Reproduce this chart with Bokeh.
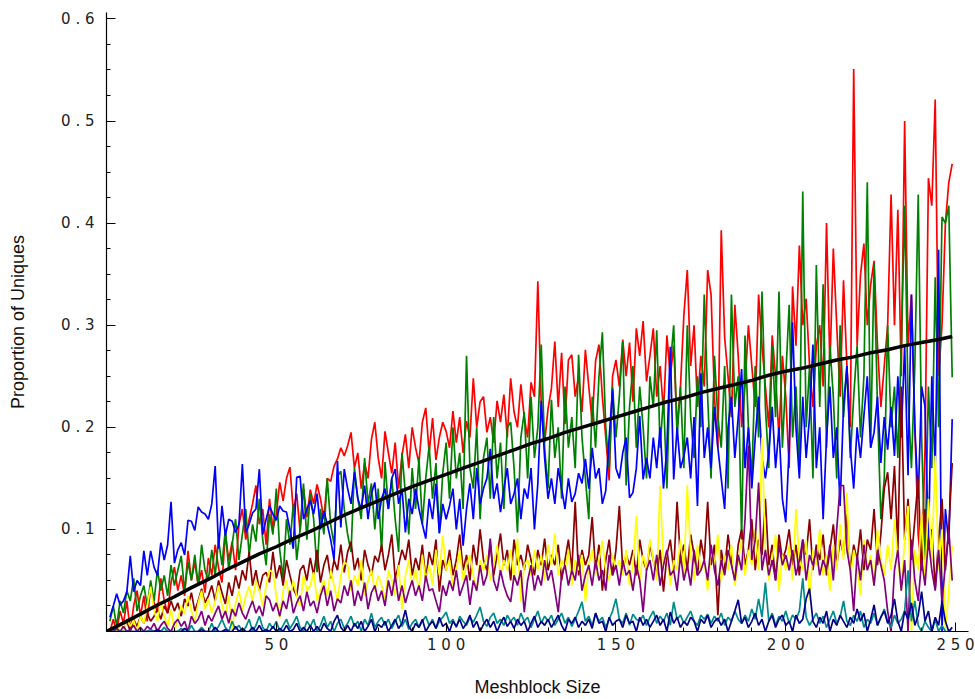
from bokeh.plotting import figure
from bokeh.models import Range1d, FixedTicker, CustomJSTickFormatter
from bokeh.embed import file_html
from bokeh.resources import INLINE

# ---- data (x = meshblock size 1..249) ----
red = [
    0.000, 0.012, 0.000, 0.020, 0.008, 0.030, 0.000, 0.025, 0.040, 0.015,
    0.035, 0.010, 0.045, 0.028, 0.020, 0.052, 0.030, 0.018, 0.048, 0.063,
    0.040, 0.055, 0.035, 0.079, 0.050, 0.068, 0.045, 0.060, 0.038, 0.072,
    0.055, 0.085, 0.062, 0.048, 0.095, 0.070, 0.088, 0.060, 0.105, 0.120,
    0.090, 0.110, 0.125, 0.143, 0.105, 0.120, 0.085, 0.130, 0.100, 0.115,
    0.146, 0.128, 0.150, 0.161, 0.118, 0.135, 0.098, 0.140, 0.112, 0.139,
    0.125, 0.144, 0.130, 0.110, 0.150, 0.147, 0.162, 0.169, 0.180, 0.172,
    0.182, 0.195, 0.160, 0.175, 0.140, 0.165, 0.150, 0.188, 0.205, 0.170,
    0.150, 0.196, 0.175, 0.155, 0.185, 0.140, 0.172, 0.193, 0.160, 0.200,
    0.180, 0.165, 0.205, 0.219, 0.175, 0.209, 0.168, 0.190, 0.205, 0.196,
    0.180, 0.216, 0.185, 0.210, 0.175, 0.206, 0.190, 0.248, 0.200, 0.225,
    0.230, 0.195, 0.210, 0.185, 0.226, 0.205, 0.232, 0.190, 0.248, 0.215,
    0.200, 0.242, 0.210, 0.190, 0.244, 0.230, 0.343, 0.222, 0.185, 0.218,
    0.238, 0.284, 0.220, 0.273, 0.203, 0.266, 0.271, 0.230, 0.250, 0.215,
    0.276, 0.240, 0.205, 0.265, 0.281, 0.230, 0.190, 0.148, 0.250, 0.266,
    0.240, 0.286, 0.250, 0.283, 0.225, 0.297, 0.270, 0.304, 0.245, 0.270,
    0.297, 0.230, 0.260, 0.215, 0.290, 0.250, 0.280, 0.200, 0.240, 0.310,
    0.354, 0.260, 0.300, 0.220, 0.270, 0.240, 0.354, 0.330, 0.230, 0.180,
    0.393, 0.288, 0.250, 0.210, 0.320, 0.270, 0.200, 0.240, 0.300, 0.260,
    0.220, 0.330, 0.280, 0.240, 0.200, 0.290, 0.250, 0.190, 0.270, 0.230,
    0.160, 0.338, 0.280, 0.378, 0.300, 0.326, 0.260, 0.220, 0.280, 0.300,
    0.240, 0.400, 0.260, 0.375, 0.300, 0.230, 0.344, 0.260, 0.200, 0.551,
    0.280, 0.349, 0.380, 0.300, 0.340, 0.363, 0.280, 0.220, 0.260, 0.300,
    0.428, 0.300, 0.413, 0.250, 0.500, 0.280, 0.330, 0.200, 0.094, 0.060,
    0.180, 0.444, 0.417, 0.521, 0.250, 0.300, 0.400, 0.440, 0.458,
]

green = [
    0.010, 0.025, 0.005, 0.030, 0.018, 0.040, 0.030, 0.052, 0.020, 0.035,
    0.045, 0.025, 0.050, 0.030, 0.060, 0.040, 0.055, 0.035, 0.065, 0.045,
    0.060, 0.074, 0.040, 0.068, 0.050, 0.075, 0.045, 0.085, 0.060, 0.050,
    0.080, 0.055, 0.090, 0.065, 0.100, 0.060, 0.085, 0.110, 0.070, 0.095,
    0.120, 0.075, 0.105, 0.088, 0.130, 0.090, 0.065, 0.115, 0.095, 0.140,
    0.080, 0.052, 0.110, 0.085, 0.125, 0.070, 0.100, 0.145, 0.090, 0.135,
    0.110, 0.058, 0.120, 0.095, 0.150, 0.105, 0.085, 0.152, 0.157, 0.120,
    0.095, 0.078, 0.160, 0.130, 0.110, 0.170, 0.125, 0.145, 0.100, 0.140,
    0.078, 0.166, 0.120, 0.150, 0.110, 0.078, 0.175, 0.135, 0.095, 0.160,
    0.120, 0.170, 0.105, 0.150, 0.182, 0.130, 0.165, 0.097, 0.155, 0.185,
    0.130, 0.200, 0.150, 0.175, 0.120, 0.270, 0.160, 0.140, 0.200, 0.110,
    0.170, 0.190, 0.130, 0.210, 0.150, 0.185, 0.120, 0.200, 0.205, 0.160,
    0.097, 0.190, 0.215, 0.150, 0.230, 0.170, 0.200, 0.281, 0.180, 0.140,
    0.227, 0.170, 0.200, 0.130, 0.240, 0.180, 0.210, 0.160, 0.271, 0.190,
    0.150, 0.110, 0.230, 0.180, 0.250, 0.293, 0.200, 0.160, 0.240, 0.190,
    0.230, 0.284, 0.143, 0.220, 0.260, 0.180, 0.240, 0.200, 0.150, 0.250,
    0.220, 0.295, 0.180, 0.230, 0.140, 0.260, 0.300, 0.190, 0.240, 0.160,
    0.300, 0.210, 0.170, 0.250, 0.200, 0.330, 0.230, 0.150, 0.270, 0.210,
    0.180, 0.260, 0.140, 0.330, 0.220, 0.250, 0.090, 0.290, 0.200, 0.150,
    0.260, 0.190, 0.333, 0.220, 0.160, 0.280, 0.210, 0.333, 0.180, 0.250,
    0.320, 0.190, 0.240, 0.160, 0.431, 0.200, 0.260, 0.150, 0.359, 0.220,
    0.340, 0.180, 0.280, 0.230, 0.150, 0.300, 0.210, 0.260, 0.170, 0.230,
    0.280, 0.190, 0.250, 0.440, 0.180, 0.360, 0.220, 0.110, 0.150, 0.300,
    0.200, 0.240, 0.170, 0.280, 0.417, 0.230, 0.160, 0.260, 0.428, 0.190,
    0.070, 0.240, 0.160, 0.347, 0.200, 0.406, 0.400, 0.417, 0.249,
]

blue = [
    0.014, 0.025, 0.037, 0.026, 0.030, 0.039, 0.074, 0.039, 0.050, 0.045,
    0.079, 0.055, 0.079, 0.063, 0.055, 0.087, 0.070, 0.085, 0.127, 0.067,
    0.080, 0.087, 0.075, 0.109, 0.108, 0.099, 0.122, 0.117, 0.115, 0.110,
    0.125, 0.162, 0.081, 0.123, 0.094, 0.110, 0.108, 0.097, 0.105, 0.164,
    0.097, 0.105, 0.116, 0.120, 0.159, 0.095, 0.110, 0.123, 0.115, 0.109,
    0.123, 0.118, 0.117, 0.100, 0.081, 0.151, 0.152, 0.110, 0.120, 0.128,
    0.115, 0.135, 0.100, 0.118, 0.105, 0.090, 0.070, 0.167, 0.102, 0.159,
    0.140, 0.125, 0.156, 0.130, 0.120, 0.143, 0.110, 0.135, 0.146, 0.110,
    0.130, 0.140, 0.120, 0.150, 0.159, 0.125, 0.140, 0.097, 0.130, 0.115,
    0.140, 0.120, 0.105, 0.091, 0.130, 0.110, 0.145, 0.096, 0.125, 0.110,
    0.123, 0.140, 0.100, 0.130, 0.084, 0.120, 0.145, 0.110, 0.160, 0.125,
    0.140, 0.150, 0.179, 0.130, 0.145, 0.117, 0.140, 0.160, 0.125, 0.135,
    0.150, 0.110, 0.140, 0.130, 0.160, 0.100, 0.145, 0.226, 0.170, 0.130,
    0.150, 0.125, 0.160, 0.140, 0.120, 0.150, 0.127, 0.135, 0.155, 0.145,
    0.169, 0.140, 0.180, 0.150, 0.160, 0.125, 0.138, 0.190, 0.237, 0.160,
    0.150, 0.175, 0.190, 0.131, 0.136, 0.160, 0.211, 0.149, 0.170, 0.150,
    0.190, 0.160, 0.200, 0.140, 0.180, 0.279, 0.149, 0.200, 0.160, 0.172,
    0.190, 0.150, 0.210, 0.123, 0.253, 0.170, 0.200, 0.160, 0.220, 0.180,
    0.150, 0.120, 0.200, 0.230, 0.170, 0.210, 0.257, 0.160, 0.200, 0.140,
    0.190, 0.230, 0.170, 0.150, 0.175, 0.220, 0.160, 0.200, 0.130, 0.107,
    0.180, 0.303, 0.200, 0.150, 0.230, 0.170, 0.210, 0.281, 0.160, 0.200,
    0.110, 0.190, 0.240, 0.170, 0.200, 0.123, 0.220, 0.260, 0.180, 0.140,
    0.200, 0.170, 0.211, 0.250, 0.180, 0.195, 0.230, 0.165, 0.210, 0.178,
    0.220, 0.172, 0.250, 0.190, 0.280, 0.153, 0.330, 0.200, 0.130, 0.240,
    0.220, 0.084, 0.250, 0.160, 0.374, 0.000, 0.120, 0.086, 0.208,
]

yellow = [
    0.000, 0.005, 0.000, 0.008, 0.000, 0.012, 0.005, 0.011, 0.000, 0.015,
    0.008, 0.025, 0.044, 0.020, 0.010, 0.030, 0.015, 0.005, 0.022, 0.000,
    0.012, 0.025, 0.017, 0.035, 0.020, 0.010, 0.028, 0.040, 0.022, 0.032,
    0.018, 0.030, 0.045, 0.025, 0.015, 0.035, 0.000, 0.028, 0.040, 0.020,
    0.035, 0.044, 0.030, 0.050, 0.040, 0.025, 0.045, 0.060, 0.058, 0.035,
    0.013, 0.040, 0.050, 0.030, 0.050, 0.035, 0.025, 0.055, 0.040, 0.045,
    0.058, 0.030, 0.040, 0.050, 0.035, 0.060, 0.045, 0.030, 0.055, 0.068,
    0.065, 0.040, 0.055, 0.045, 0.070, 0.035, 0.050, 0.060, 0.040, 0.055,
    0.045, 0.032, 0.060, 0.050, 0.035, 0.065, 0.022, 0.055, 0.070, 0.045,
    0.060, 0.040, 0.075, 0.050, 0.065, 0.045, 0.080, 0.055, 0.094, 0.060,
    0.070, 0.045, 0.060, 0.080, 0.050, 0.065, 0.075, 0.055, 0.040, 0.070,
    0.060, 0.075, 0.050, 0.065, 0.085, 0.055, 0.070, 0.060, 0.080, 0.050,
    0.091, 0.029, 0.065, 0.070, 0.055, 0.080, 0.060, 0.075, 0.050, 0.085,
    0.065, 0.096, 0.055, 0.070, 0.060, 0.080, 0.045, 0.070, 0.060, 0.075,
    0.029, 0.065, 0.080, 0.055, 0.070, 0.089, 0.060, 0.050, 0.075, 0.060,
    0.070, 0.055, 0.080, 0.045, 0.065, 0.113, 0.050, 0.075, 0.060, 0.090,
    0.070, 0.050, 0.143, 0.065, 0.080, 0.045, 0.070, 0.060, 0.090, 0.055,
    0.143, 0.075, 0.050, 0.085, 0.060, 0.070, 0.040, 0.080, 0.065, 0.095,
    0.050, 0.075, 0.060, 0.085, 0.045, 0.070, 0.090, 0.055, 0.080, 0.065,
    0.100, 0.060, 0.190, 0.080, 0.050, 0.070, 0.095, 0.040, 0.075, 0.060,
    0.085, 0.050, 0.120, 0.070, 0.060, 0.090, 0.030, 0.080, 0.065, 0.100,
    0.055, 0.075, 0.040, 0.085, 0.060, 0.105, 0.070, 0.136, 0.050, 0.080,
    0.065, 0.035, 0.090, 0.060, 0.075, 0.045, 0.100, 0.070, 0.055, 0.085,
    0.060, 0.110, 0.070, 0.040, 0.090, 0.123, 0.000, 0.080, 0.060, 0.115,
    0.050, 0.130, 0.070, 0.172, 0.060, 0.100, 0.000, 0.040, 0.084,
]

darkred = [
    0.000, 0.003, 0.000, 0.008, 0.002, 0.010, 0.000, 0.012, 0.005, 0.015,
    0.008, 0.018, 0.010, 0.015, 0.022, 0.012, 0.025, 0.018, 0.030, 0.020,
    0.028, 0.015, 0.032, 0.025, 0.038, 0.020, 0.030, 0.042, 0.028, 0.035,
    0.045, 0.030, 0.050, 0.038, 0.027, 0.048, 0.035, 0.055, 0.042, 0.060,
    0.050, 0.078, 0.045, 0.060, 0.040, 0.055, 0.058, 0.048, 0.078, 0.052,
    0.065, 0.045, 0.070, 0.055, 0.042, 0.035, 0.060, 0.065, 0.050, 0.072,
    0.055, 0.080, 0.048, 0.065, 0.075, 0.052, 0.070, 0.060, 0.085, 0.058,
    0.078, 0.088, 0.060, 0.072, 0.050, 0.080, 0.065, 0.055, 0.074, 0.068,
    0.085, 0.060, 0.075, 0.095, 0.052, 0.065, 0.080, 0.070, 0.090, 0.055,
    0.072, 0.060, 0.085, 0.050, 0.078, 0.065, 0.090, 0.039, 0.070, 0.060,
    0.080, 0.055, 0.070, 0.095, 0.060, 0.075, 0.050, 0.085, 0.065, 0.100,
    0.070, 0.060, 0.085, 0.055, 0.075, 0.096, 0.065, 0.080, 0.050, 0.090,
    0.065, 0.075, 0.060, 0.085, 0.070, 0.055, 0.080, 0.065, 0.091, 0.060,
    0.075, 0.065, 0.085, 0.050, 0.070, 0.090, 0.060, 0.127, 0.055, 0.080,
    0.065, 0.075, 0.112, 0.060, 0.085, 0.040, 0.070, 0.090, 0.055, 0.080,
    0.123, 0.060, 0.075, 0.065, 0.080, 0.055, 0.090, 0.070, 0.060, 0.085,
    0.070, 0.055, 0.080, 0.039, 0.075, 0.090, 0.060, 0.127, 0.070, 0.085,
    0.060, 0.095, 0.075, 0.055, 0.090, 0.070, 0.127, 0.065, 0.085, 0.016,
    0.080, 0.060, 0.095, 0.070, 0.050, 0.085, 0.100, 0.065, 0.080, 0.110,
    0.060, 0.090, 0.075, 0.130, 0.065, 0.085, 0.050, 0.095, 0.070, 0.080,
    0.100, 0.065, 0.085, 0.055, 0.090, 0.075, 0.110, 0.060, 0.085, 0.070,
    0.095, 0.055, 0.080, 0.105, 0.065, 0.090, 0.075, 0.115, 0.060, 0.085,
    0.070, 0.100, 0.060, 0.090, 0.080, 0.120, 0.065, 0.095, 0.140, 0.156,
    0.110, 0.162, 0.080, 0.240, 0.090, 0.130, 0.070, 0.110, 0.150, 0.060,
    0.120, 0.080, 0.100, 0.042, 0.090, 0.130, 0.060, 0.100, 0.165,
]

purple = [
    0.000, 0.000, 0.003, 0.000, 0.005, 0.000, 0.002, 0.006, 0.000, 0.004,
    0.000, 0.005, 0.002, 0.008, 0.000, 0.006, 0.010, 0.003, 0.000, 0.008,
    0.012, 0.005, 0.010, 0.000, 0.015, 0.008, 0.012, 0.020, 0.006, 0.016,
    0.010, 0.018, 0.025, 0.012, 0.020, 0.008, 0.022, 0.015, 0.028, 0.018,
    0.012, 0.022, 0.030, 0.018, 0.025, 0.015, 0.035, 0.031, 0.020, 0.028,
    0.015, 0.030, 0.022, 0.040, 0.018, 0.028, 0.035, 0.020, 0.039, 0.025,
    0.030, 0.018, 0.035, 0.045, 0.025, 0.040, 0.020, 0.032, 0.028, 0.045,
    0.035, 0.050, 0.025, 0.040, 0.030, 0.048, 0.022, 0.038, 0.045, 0.030,
    0.040, 0.025, 0.050, 0.035, 0.055, 0.030, 0.045, 0.028, 0.040, 0.050,
    0.035, 0.045, 0.030, 0.055, 0.040, 0.042, 0.030, 0.019, 0.045, 0.035,
    0.050, 0.040, 0.060, 0.035, 0.045, 0.055, 0.026, 0.050, 0.040, 0.065,
    0.045, 0.055, 0.091, 0.050, 0.040, 0.060, 0.045, 0.035, 0.029, 0.055,
    0.045, 0.060, 0.019, 0.050, 0.065, 0.040, 0.055, 0.045, 0.070, 0.050,
    0.060, 0.040, 0.019, 0.055, 0.065, 0.045, 0.060, 0.050, 0.075, 0.040,
    0.055, 0.065, 0.045, 0.070, 0.050, 0.060, 0.040, 0.075, 0.055, 0.065,
    0.045, 0.070, 0.055, 0.060, 0.040, 0.065, 0.050, 0.019, 0.060, 0.070,
    0.050, 0.075, 0.045, 0.065, 0.080, 0.055, 0.060, 0.040, 0.075, 0.050,
    0.065, 0.045, 0.080, 0.055, 0.060, 0.070, 0.050, 0.085, 0.060, 0.045,
    0.070, 0.055, 0.080, 0.065, 0.050, 0.075, 0.060, 0.110, 0.182, 0.070,
    0.090, 0.146, 0.060, 0.080, 0.055, 0.070, 0.050, 0.085, 0.065, 0.075,
    0.060, 0.080, 0.055, 0.070, 0.090, 0.050, 0.075, 0.065, 0.080, 0.055,
    0.070, 0.060, 0.085, 0.050, 0.100, 0.143, 0.143, 0.080, 0.060, 0.020,
    0.075, 0.050, 0.085, 0.060, 0.070, 0.045, 0.080, 0.065, 0.050, 0.020,
    0.000, 0.060, 0.080, 0.040, 0.070, 0.000, 0.090, 0.050, 0.030, 0.070,
    0.045, 0.090, 0.060, 0.040, 0.080, 0.030, 0.065, 0.100, 0.050,
]

teal = [
    0.000, 0.000, 0.000, 0.000, 0.000, 0.000, 0.000, 0.000, 0.000, 0.000,
    0.000, 0.000, 0.002, 0.000, 0.000, 0.000, 0.004, 0.000, 0.000, 0.000,
    0.000, 0.003, 0.000, 0.000, 0.006, 0.000, 0.000, 0.004, 0.000, 0.000,
    0.008, 0.000, 0.005, 0.012, 0.004, 0.000, 0.010, 0.002, 0.006, 0.000,
    0.004, 0.012, 0.000, 0.006, 0.015, 0.004, 0.000, 0.008, 0.003, 0.010,
    0.000, 0.006, 0.012, 0.003, 0.008, 0.015, 0.004, 0.000, 0.010, 0.005,
    0.012, 0.000, 0.006, 0.015, 0.004, 0.010, 0.000, 0.008, 0.012, 0.003,
    0.008, 0.015, 0.005, 0.010, 0.000, 0.012, 0.006, 0.018, 0.004, 0.010,
    0.014, 0.006, 0.012, 0.003, 0.010, 0.016, 0.005, 0.012, 0.002, 0.008,
    0.012, 0.004, 0.010, 0.015, 0.006, 0.012, 0.003, 0.010, 0.014, 0.019,
    0.008, 0.012, 0.004, 0.015, 0.010, 0.006, 0.014, 0.009, 0.016, 0.024,
    0.010, 0.005, 0.014, 0.018, 0.008, 0.012, 0.006, 0.016, 0.010, 0.014,
    0.006, 0.018, 0.010, 0.014, 0.004, 0.012, 0.020, 0.008, 0.015, 0.010,
    0.016, 0.006, 0.012, 0.018, 0.008, 0.014, 0.005, 0.012, 0.020, 0.029,
    0.010, 0.015, 0.006, 0.018, 0.010, 0.014, 0.004, 0.012, 0.020, 0.032,
    0.012, 0.008, 0.018, 0.006, 0.017, 0.012, 0.010, 0.016, 0.006, 0.014,
    0.020, 0.008, 0.015, 0.010, 0.018, 0.006, 0.029, 0.012, 0.016, 0.008,
    0.014, 0.020, 0.010, 0.006, 0.016, 0.012, 0.017, 0.008, 0.015, 0.010,
    0.018, 0.006, 0.014, 0.010, 0.020, 0.012, 0.008, 0.016, 0.010, 0.022,
    0.012, 0.032, 0.014, 0.048, 0.010, 0.018, 0.006, 0.015, 0.010, 0.020,
    0.008, 0.016, 0.012, 0.020, 0.052, 0.014, 0.006, 0.012, 0.018, 0.008,
    0.015, 0.004, 0.012, 0.020, 0.008, 0.014, 0.030, 0.010, 0.006, 0.016,
    0.010, 0.020, 0.004, 0.012, 0.008, 0.018, 0.006, 0.014, 0.022, 0.010,
    0.004, 0.016, 0.008, 0.012, 0.020, 0.060, 0.010, 0.030, 0.006, 0.000,
    0.010, 0.004, 0.000, 0.012, 0.000, 0.006, 0.000, 0.000, 0.000,
]

navy = [
    0.000, 0.000, 0.000, 0.000, 0.000, 0.000, 0.000, 0.000, 0.000, 0.000,
    0.000, 0.000, 0.000, 0.000, 0.002, 0.000, 0.000, 0.000, 0.000, 0.000,
    0.000, 0.000, 0.003, 0.000, 0.000, 0.000, 0.000, 0.002, 0.000, 0.000,
    0.000, 0.004, 0.000, 0.000, 0.002, 0.000, 0.000, 0.005, 0.000, 0.003,
    0.000, 0.000, 0.004, 0.000, 0.006, 0.000, 0.002, 0.000, 0.005, 0.000,
    0.003, 0.000, 0.006, 0.000, 0.002, 0.008, 0.000, 0.004, 0.000, 0.006,
    0.000, 0.005, 0.000, 0.008, 0.003, 0.000, 0.010, 0.016, 0.004, 0.000,
    0.006, 0.000, 0.008, 0.003, 0.010, 0.000, 0.005, 0.012, 0.000, 0.007,
    0.004, 0.010, 0.000, 0.006, 0.012, 0.003, 0.008, 0.021, 0.005, 0.000,
    0.008, 0.004, 0.012, 0.000, 0.006, 0.010, 0.003, 0.014, 0.005, 0.008,
    0.000, 0.010, 0.005, 0.012, 0.003, 0.008, 0.016, 0.004, 0.010, 0.000,
    0.007, 0.012, 0.004, 0.010, 0.000, 0.008, 0.014, 0.005, 0.010, 0.003,
    0.012, 0.006, 0.010, 0.000, 0.008, 0.015, 0.004, 0.010, 0.006, 0.012,
    0.004, 0.010, 0.016, 0.006, 0.000, 0.012, 0.008, 0.014, 0.004, 0.010,
    0.006, 0.012, 0.003, 0.018, 0.008, 0.010, 0.000, 0.014, 0.006, 0.010,
    0.012, 0.004, 0.016, 0.008, 0.010, 0.000, 0.014, 0.006, 0.012, 0.004,
    0.010, 0.016, 0.006, 0.012, 0.000, 0.019, 0.008, 0.014, 0.004, 0.010,
    0.006, 0.014, 0.010, 0.000, 0.012, 0.008, 0.016, 0.004, 0.010, 0.013,
    0.006, 0.012, 0.000, 0.010, 0.020, 0.031, 0.008, 0.014, 0.004, 0.010,
    0.018, 0.006, 0.012, 0.000, 0.010, 0.016, 0.004, 0.012, 0.016, 0.006,
    0.010, 0.000, 0.016, 0.008, 0.012, 0.032, 0.042, 0.010, 0.004, 0.014,
    0.008, 0.020, 0.000, 0.012, 0.006, 0.016, 0.010, 0.004, 0.014, 0.008,
    0.022, 0.010, 0.018, 0.000, 0.012, 0.026, 0.006, 0.014, 0.020, 0.008,
    0.016, 0.032, 0.010, 0.000, 0.020, 0.012, 0.028, 0.006, 0.016, 0.039,
    0.010, 0.020, 0.000, 0.014, 0.006, 0.029, 0.010, 0.000, 0.004,
]

# overall (smooth) proportion, sampled every 5 units
black_x = [0, 5, 10, 15, 20, 25, 30, 35, 40, 45, 50, 55, 60, 65, 70, 75, 80,
           85, 90, 95, 100, 105, 110, 115, 120, 125, 130, 135, 140, 145, 150,
           155, 160, 165, 170, 175, 180, 185, 190, 195, 200, 205, 210, 215,
           220, 225, 230, 235, 240, 245, 249]
black_y = [0.000, 0.0085, 0.017, 0.026, 0.034, 0.043, 0.051, 0.060, 0.068,
           0.076, 0.083, 0.091, 0.098, 0.106, 0.114, 0.121, 0.128, 0.135,
           0.142, 0.148, 0.154, 0.160, 0.166, 0.172, 0.178, 0.184, 0.189,
           0.195, 0.200, 0.205, 0.210, 0.215, 0.220, 0.225, 0.229, 0.234,
           0.238, 0.242, 0.246, 0.251, 0.255, 0.258, 0.262, 0.266, 0.269,
           0.273, 0.276, 0.280, 0.283, 0.286, 0.289]

x_ticks = [0, 50, 100, 150, 200, 250]
x_minor = [10, 20, 30, 40, 60, 70, 80, 90, 110, 120, 130, 140, 160, 170, 180,
           190, 210, 220, 230, 240]
y_ticks = [0.0, 0.1, 0.2, 0.3, 0.4, 0.5, 0.6]
y_minor = [0.025, 0.05, 0.075, 0.125, 0.15, 0.175, 0.225, 0.25, 0.275,
           0.325, 0.35, 0.375, 0.425, 0.45, 0.475, 0.525, 0.55, 0.575]

series = [
    (red, "#FF0000"),
    (green, "#008000"),
    (blue, "#0000FF"),
    (darkred, "#8B0000"),
    (yellow, "#FFFF00"),
    (purple, "#800080"),
    (teal, "#008B8B"),
    (navy, "#00008B"),
]

p = figure(width=975, height=699, output_backend="svg", toolbar_location=None,
           x_range=Range1d(0, 253.8), y_range=Range1d(0, 0.6063),
           min_border_left=106, min_border_right=7, min_border_top=12,
           min_border_bottom=66)
p.outline_line_color = None
p.grid.visible = False
p.background_fill_color = "white"
p.border_fill_color = "white"

for vals, col in series:
    xs = list(range(1, len(vals) + 1))
    p.line(xs, vals, line_color=col, line_width=1.7)

p.line(black_x, black_y, line_color="black", line_width=3.5)

for ax in (p.xaxis[0], p.yaxis[0]):
    ax.axis_line_color = "black"
    ax.axis_line_width = 1.2
    ax.major_tick_line_color = "black"
    ax.minor_tick_line_color = "black"
    ax.major_tick_in = 9
    ax.major_tick_out = 0
    ax.minor_tick_in = 4
    ax.minor_tick_out = 0
    ax.major_label_text_font = "DejaVu Sans"
    ax.major_label_text_font_size = "15px"
    ax.major_label_text_color = "#222222"
    ax.axis_label_text_font = "Liberation Sans"
    ax.axis_label_text_font_size = "18px"
    ax.axis_label_text_font_style = "normal"
    ax.axis_label_text_color = "#111111"

p.xaxis.ticker = FixedTicker(ticks=x_ticks, minor_ticks=x_minor)
p.yaxis.ticker = FixedTicker(ticks=y_ticks, minor_ticks=y_minor)
p.xaxis.formatter = CustomJSTickFormatter(
    code="return tick == 0 ? '' : String(Math.round(tick)).split('').join(' ');")
p.yaxis.formatter = CustomJSTickFormatter(
    code="return tick == 0 ? '' : tick.toFixed(1).split('').join(' ');")
p.xaxis.axis_label = "Meshblock Size"
p.yaxis.axis_label = "Proportion of Uniques"
p.xaxis.major_label_standoff = 4
p.yaxis.major_label_standoff = 12
p.xaxis.axis_label_standoff = 20
p.yaxis.axis_label_standoff = 30

open("out.html", "w").write(file_html(p, INLINE))
